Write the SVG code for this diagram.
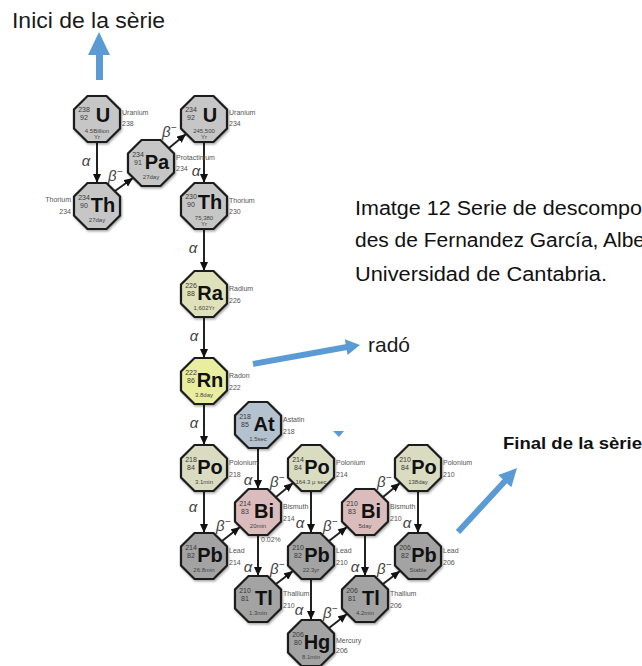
<svg xmlns="http://www.w3.org/2000/svg" xmlns:xlink="http://www.w3.org/1999/xlink" width="642" height="666" viewBox="0 0 642 666">
<style>
text{font-family:"Liberation Sans",Arial,sans-serif}
.oct{stroke:#1c1c1c;stroke-width:2.2}
.g1{fill:#c6c6c6}.g2{fill:#a3a3a3}.kh{fill:#dadcc2}.ra{fill:#dfe1bb}.rn{fill:#e8eda0}.at{fill:#b4c1ce}.bi{fill:#dbbcbd}
.num{font-size:7px;fill:#3a3a3a;text-anchor:middle}
.sym{font-size:20px;font-weight:bold;fill:#111;text-anchor:middle}
.hl{font-size:6px;fill:#444;text-anchor:middle}
.lbl{font-size:7px;fill:#555}
.lblr{font-size:7px;fill:#555;text-anchor:end}
.arr{stroke:#222;stroke-width:2;fill:none;marker-end:url(#ah)}
.al{font-size:15px;font-style:italic;fill:#444;text-anchor:middle}
.be{font-size:15px;font-style:italic;fill:#444}
.blue{fill:#5b9bd5}
.bline{stroke:#5b9bd5;stroke-width:6;fill:none}
.cap{font-size:19.5px;fill:#111}
</style>
<defs>
<polygon id="oct" points="-9.5,-23 9.5,-23 23,-9.5 23,9.5 9.5,23 -9.5,23 -23,9.5 -23,-9.5"/>
<filter id="sh" x="-20%" y="-20%" width="150%" height="150%"><feDropShadow dx="1" dy="1.5" stdDeviation="1" flood-color="#000" flood-opacity="0.35"/></filter>
<marker id="ah" markerUnits="userSpaceOnUse" markerWidth="9" markerHeight="8" refX="9" refY="4" orient="auto"><path d="M0,0 L9,4 L0,8 z" fill="#111"/></marker>
</defs>
<rect width="642" height="666" fill="#fff"/>

<!-- annotations -->
<text x="12" y="28" font-size="22" fill="#1a1a1a" textLength="153" lengthAdjust="spacingAndGlyphs">Inici de la sèrie</text>
<rect class="blue" x="96" y="54" width="7" height="26"/>
<polygon class="blue" points="88,55 110,55 99,32"/>

<text class="cap" x="355" y="215" textLength="287" lengthAdjust="spacingAndGlyphs">Imatge 12 Serie de descompo</text>
<text class="cap" x="355" y="247" textLength="290" lengthAdjust="spacingAndGlyphs">des de Fernandez García, Albe</text>
<text class="cap" x="355" y="281" textLength="252" lengthAdjust="spacingAndGlyphs">Universidad de Cantabria.</text>

<line class="bline" x1="253" y1="364" x2="347" y2="347"/>
<polygon class="blue" points="360,345 347.6,355.1 344.8,339.3"/>
<text x="368" y="352" font-size="21" fill="#1a1a1a">radó</text>

<polygon class="blue" points="333,431 344,431 339,437"/>

<text x="503" y="449" font-size="17" font-weight="bold" fill="#111" textLength="139" lengthAdjust="spacingAndGlyphs">Final de la sèrie</text>
<line class="bline" x1="458" y1="532" x2="506" y2="480"/>
<polygon class="blue" points="517,468 511.4,487.3 498.2,475.1"/>

<!-- connectors -->
<g id="connectors">
<line class="arr" x1="97" y1="142" x2="97" y2="183"/>
<line class="arr" x1="204" y1="142" x2="204" y2="183"/>
<line class="arr" x1="204" y1="229" x2="204" y2="271"/>
<line class="arr" x1="204" y1="317" x2="204" y2="358"/>
<line class="arr" x1="204" y1="404" x2="204" y2="445"/>
<line class="arr" x1="204" y1="491" x2="204" y2="533"/>
<line class="arr" x1="258" y1="448" x2="258" y2="489"/>
<line class="arr" x1="258" y1="535" x2="258" y2="576"/>
<line class="arr" x1="311" y1="491" x2="311" y2="533"/>
<line class="arr" x1="311" y1="579" x2="311" y2="620"/>
<line class="arr" x1="365" y1="535" x2="365" y2="576"/>
<line class="arr" x1="418" y1="491" x2="418" y2="533"/>
<line class="arr" x1="115" y1="191" x2="133" y2="178"/>
<line class="arr" x1="169" y1="148" x2="186" y2="134"/>
<line class="arr" x1="222" y1="541" x2="240" y2="527"/>
<line class="arr" x1="276" y1="497" x2="293" y2="483"/>
<line class="arr" x1="276" y1="584" x2="293" y2="571"/>
<line class="arr" x1="329" y1="541" x2="347" y2="527"/>
<line class="arr" x1="383" y1="497" x2="400" y2="483"/>
<line class="arr" x1="329" y1="628" x2="347" y2="614"/>
<line class="arr" x1="383" y1="584" x2="400" y2="571"/>
<text class="al" x="86" y="166">α</text>
<text class="al" x="196" y="176">α</text>
<text class="al" x="193" y="253">α</text>
<text class="al" x="194" y="341">α</text>
<text class="al" x="194" y="428">α</text>
<text class="al" x="193" y="512">α</text>
<text class="al" x="248" y="485">α</text>
<text class="al" x="248" y="572">α</text>
<text class="al" x="300" y="528">α</text>
<text class="al" x="299" y="615">α</text>
<text class="al" x="355" y="572">α</text>
<text class="al" x="407" y="528">α</text>
<text class="be" x="108" y="181">β<tspan dy="-6" font-size="10">−</tspan></text>
<text class="be" x="162" y="137">β<tspan dy="-6" font-size="10">−</tspan></text>
<text class="be" x="216" y="531">β<tspan dy="-6" font-size="10">−</tspan></text>
<text class="be" x="270" y="487">β<tspan dy="-6" font-size="10">−</tspan></text>
<text class="be" x="270" y="574">β<tspan dy="-6" font-size="10">−</tspan></text>
<text class="be" x="323" y="531">β<tspan dy="-6" font-size="10">−</tspan></text>
<text class="be" x="377" y="487">β<tspan dy="-6" font-size="10">−</tspan></text>
<text class="be" x="323" y="618">β<tspan dy="-6" font-size="10">−</tspan></text>
<text class="be" x="377" y="574">β<tspan dy="-6" font-size="10">−</tspan></text>
<text class="lbl" x="261" y="542">0.02%</text>
</g>

<!-- nodes -->
<g id="n-U238" transform="translate(97,119)"><use xlink:href="#oct" class="oct g1" filter="url(#sh)"/>
<text class="num" x="-13" y="-7">238</text><text class="num" x="-13" y="1">92</text><text class="sym" x="6" y="3">U</text><text class="hl" x="0" y="13.5">4.5Billion</text><text class="hl" x="0" y="20">Yr</text>
<text class="lbl" x="25" y="-4">Uranium</text><text class="lbl" x="25" y="7">238</text></g>

<g id="n-Th234" transform="translate(97,206)"><use xlink:href="#oct" class="oct g1" filter="url(#sh)"/>
<text class="num" x="-13" y="-6">234</text><text class="num" x="-13" y="2">90</text><text class="sym" x="6" y="6">Th</text><text class="hl" x="0" y="16">27day</text>
<text class="lblr" x="-26" y="-4">Thorium</text><text class="lblr" x="-26" y="8">234</text></g>

<g id="n-Pa234" transform="translate(151,163)"><use xlink:href="#oct" class="oct g1" filter="url(#sh)"/>
<text class="num" x="-13" y="-6">234</text><text class="num" x="-13" y="2">91</text><text class="sym" x="6" y="6">Pa</text><text class="hl" x="0" y="16">27day</text>
<text class="lbl" x="25" y="-3">Protactinium</text><text class="lbl" x="25" y="8">234</text></g>

<g id="n-U234" transform="translate(204,119)"><use xlink:href="#oct" class="oct g1" filter="url(#sh)"/>
<text class="num" x="-13" y="-7">234</text><text class="num" x="-13" y="1">92</text><text class="sym" x="6" y="3">U</text><text class="hl" x="0" y="13.5">245,500</text><text class="hl" x="0" y="20">Yr</text>
<text class="lbl" x="25" y="-4">Uranium</text><text class="lbl" x="25" y="7">234</text></g>

<g id="n-Th230" transform="translate(204,206)"><use xlink:href="#oct" class="oct g1" filter="url(#sh)"/>
<text class="num" x="-13" y="-7">230</text><text class="num" x="-13" y="1">90</text><text class="sym" x="6" y="3">Th</text><text class="hl" x="0" y="13.5">75,380</text><text class="hl" x="0" y="20">Yr</text>
<text class="lbl" x="25" y="-3">Thorium</text><text class="lbl" x="25" y="8">230</text></g>

<g id="n-Ra226" transform="translate(204,294)"><use xlink:href="#oct" class="oct ra" filter="url(#sh)"/>
<text class="num" x="-13" y="-6">226</text><text class="num" x="-13" y="2">88</text><text class="sym" x="6" y="6">Ra</text><text class="hl" x="0" y="16">1,602Yr</text>
<text class="lbl" x="25" y="-3">Radium</text><text class="lbl" x="25" y="9">226</text></g>

<g id="n-Rn222" transform="translate(204,381)"><use xlink:href="#oct" class="oct rn" filter="url(#sh)"/>
<text class="num" x="-13" y="-6">222</text><text class="num" x="-13" y="2">86</text><text class="sym" x="6" y="6">Rn</text><text class="hl" x="0" y="16">3.8day</text>
<text class="lbl" x="25" y="-3">Radon</text><text class="lbl" x="25" y="9">222</text></g>

<g id="n-At218" transform="translate(258,425)"><use xlink:href="#oct" class="oct at" filter="url(#sh)"/>
<text class="num" x="-13" y="-6">218</text><text class="num" x="-13" y="2">85</text><text class="sym" x="6" y="6">At</text><text class="hl" x="0" y="16">1.5sec</text>
<text class="lbl" x="25" y="-3">Astatin</text><text class="lbl" x="25" y="9">218</text></g>

<g id="n-Po218" transform="translate(204,468)"><use xlink:href="#oct" class="oct kh" filter="url(#sh)"/>
<text class="num" x="-13" y="-6">218</text><text class="num" x="-13" y="2">84</text><text class="sym" x="6" y="6">Po</text><text class="hl" x="0" y="16">3.1min</text>
<text class="lbl" x="25" y="-3">Polonium</text><text class="lbl" x="25" y="9">218</text></g>

<g id="n-Bi214" transform="translate(258,512)"><use xlink:href="#oct" class="oct bi" filter="url(#sh)"/>
<text class="num" x="-13" y="-6">214</text><text class="num" x="-13" y="2">83</text><text class="sym" x="6" y="6">Bi</text><text class="hl" x="0" y="16">20min</text>
<text class="lbl" x="25" y="-3">Bismuth</text><text class="lbl" x="25" y="9">214</text></g>

<g id="n-Pb214" transform="translate(204,556)"><use xlink:href="#oct" class="oct g2" filter="url(#sh)"/>
<text class="num" x="-13" y="-6">214</text><text class="num" x="-13" y="2">82</text><text class="sym" x="6" y="6">Pb</text><text class="hl" x="0" y="16">26.8min</text>
<text class="lbl" x="25" y="-3">Lead</text><text class="lbl" x="25" y="9">214</text></g>

<g id="n-Tl210" transform="translate(258,599)"><use xlink:href="#oct" class="oct g2" filter="url(#sh)"/>
<text class="num" x="-13" y="-6">210</text><text class="num" x="-13" y="2">81</text><text class="sym" x="6" y="6">Tl</text><text class="hl" x="0" y="16">1.3min</text>
<text class="lbl" x="25" y="-3">Thallium</text><text class="lbl" x="25" y="9">210</text></g>

<g id="n-Po214" transform="translate(311,468)"><use xlink:href="#oct" class="oct kh" filter="url(#sh)"/>
<text class="num" x="-13" y="-6">214</text><text class="num" x="-13" y="2">84</text><text class="sym" x="6" y="6">Po</text><text class="hl" x="0" y="16">164.3 μ sec</text>
<text class="lbl" x="25" y="-3">Polonium</text><text class="lbl" x="25" y="9">214</text></g>

<g id="n-Pb210" transform="translate(311,556)"><use xlink:href="#oct" class="oct g2" filter="url(#sh)"/>
<text class="num" x="-13" y="-6">210</text><text class="num" x="-13" y="2">82</text><text class="sym" x="6" y="6">Pb</text><text class="hl" x="0" y="16">22.3yr</text>
<text class="lbl" x="25" y="-3">Lead</text><text class="lbl" x="25" y="9">210</text></g>

<g id="n-Bi210" transform="translate(365,512)"><use xlink:href="#oct" class="oct bi" filter="url(#sh)"/>
<text class="num" x="-13" y="-6">210</text><text class="num" x="-13" y="2">83</text><text class="sym" x="6" y="6">Bi</text><text class="hl" x="0" y="16">5day</text>
<text class="lbl" x="25" y="-3">Bismuth</text><text class="lbl" x="25" y="9">210</text></g>

<g id="n-Po210" transform="translate(418,468)"><use xlink:href="#oct" class="oct kh" filter="url(#sh)"/>
<text class="num" x="-13" y="-6">210</text><text class="num" x="-13" y="2">84</text><text class="sym" x="6" y="6">Po</text><text class="hl" x="0" y="16">138day</text>
<text class="lbl" x="25" y="-3">Polonium</text><text class="lbl" x="25" y="9">210</text></g>

<g id="n-Pb206" transform="translate(418,556)"><use xlink:href="#oct" class="oct g2" filter="url(#sh)"/>
<text class="num" x="-13" y="-6">206</text><text class="num" x="-13" y="2">82</text><text class="sym" x="6" y="6">Pb</text><text class="hl" x="0" y="16">Stable</text>
<text class="lbl" x="25" y="-3">Lead</text><text class="lbl" x="25" y="9">206</text></g>

<g id="n-Tl206" transform="translate(365,599)"><use xlink:href="#oct" class="oct g2" filter="url(#sh)"/>
<text class="num" x="-13" y="-6">206</text><text class="num" x="-13" y="2">81</text><text class="sym" x="6" y="6">Tl</text><text class="hl" x="0" y="16">4.2min</text>
<text class="lbl" x="25" y="-3">Thallium</text><text class="lbl" x="25" y="9">206</text></g>

<g id="n-Hg206" transform="translate(311,643)"><use xlink:href="#oct" class="oct g2" filter="url(#sh)"/>
<text class="num" x="-13" y="-6">206</text><text class="num" x="-13" y="2">80</text><text class="sym" x="6" y="6">Hg</text><text class="hl" x="0" y="16">8.1min</text>
<text class="lbl" x="25" y="0">Mercury</text><text class="lbl" x="25" y="10">206</text></g>
</svg>
